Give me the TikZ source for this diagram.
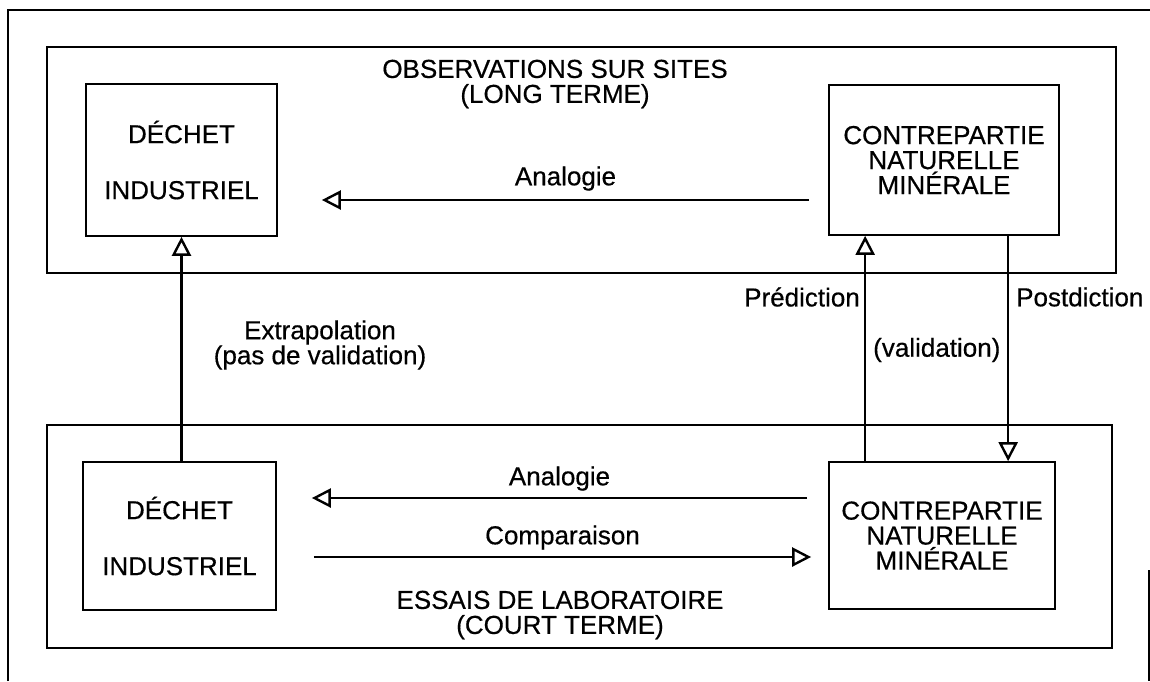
\documentclass[tikz,border=0pt]{standalone}
\usepackage{fontspec}
\setmainfont{Liberation Sans}[FakeBold=0.5]
\usetikzlibrary{arrows.meta,calc}
\begin{document}
\begin{tikzpicture}[x=1pt,y=-1pt,
  frame/.style={line width=1.4pt},
  panel/.style={draw, line width=1.7pt},
  box/.style={draw, line width=1.7pt, inner sep=0pt, font=\fontsize{26}{25}\selectfont, align=center},
  lbl/.style={font=\fontsize{26}{25}\selectfont, align=center, inner sep=0pt},
  arr/.style={line width=2.6pt, -{Triangle[open, length=19pt, width=19pt, line width=2.4pt]}}
]
\useasboundingbox (0,0) rectangle (1150,681);
% outer frame (partial, as scanned)
\draw[frame] (8,681) -- (8,10) -- (1150,10);
\draw[frame] (1149,570) -- (1149,681);
% panels
\draw[panel] (47,47) rectangle (1116,273);
\draw[panel] (47,425) rectangle (1112,648);
\node[lbl] (top) at (555,84) {OBSERVATIONS SUR SITES\\(LONG TERME)};
\node[lbl] (bot) at (560,615) {ESSAIS DE LABORATOIRE\\(COURT TERME)};
% boxes
\node[box, minimum width=191pt, minimum height=152pt] (tl) at (181.5,160) {DÉCHET\\[31pt]INDUSTRIEL};
\node[box, minimum width=230pt, minimum height=150pt] (tr) at (944,160) {CONTREPARTIE\\NATURELLE\\MINÉRALE};
\node[box, minimum width=193pt, minimum height=148pt] (bl) at (179.5,536) {DÉCHET\\[31pt]INDUSTRIEL};
\node[box, minimum width=226pt, minimum height=147pt] (br) at (942,535.5) {CONTREPARTIE\\NATURELLE\\MINÉRALE};
% horizontal arrows
\draw[arr] ($(tr.west)+(-19,40)$) -- ($(tl.east)+(44,40)$)
  node[lbl, pos=0.5, above=8pt] (an1) {Analogie};
\draw[arr] ($(br.west)+(-21,-37.5)$) -- ($(bl.east)+(35,-38)$)
  node[lbl, pos=0.5, above=6pt] (an2) {Analogie};
\draw[arr] ($(bl.east)+(37,21)$) -- ($(br.west)+(-17,21.5)$)
  node[lbl, pos=0.5, above=6pt] (cmp) {Comparaison};
% vertical arrows
\draw[arr] (bl.north -| tl.south) -- (tl.south);
\node[lbl] (ext) at (320,345) {Extrapolation\\(pas de validation)};
\draw[arr] ($(br.north west)+(37,0)$) -- ($(tr.south west)+(37,0)$);
\draw[arr] ($(tr.south west)+(180,0)$) -- ($(br.north west)+(180,0)$);
\node[lbl, anchor=east] (pred) at (860,297) {Prédiction};
\node[lbl, anchor=west] (val) at (873,350) {(validation)};
\node[lbl, anchor=west] (post) at (1016,297) {Postdiction};
\end{tikzpicture}
\end{document}
